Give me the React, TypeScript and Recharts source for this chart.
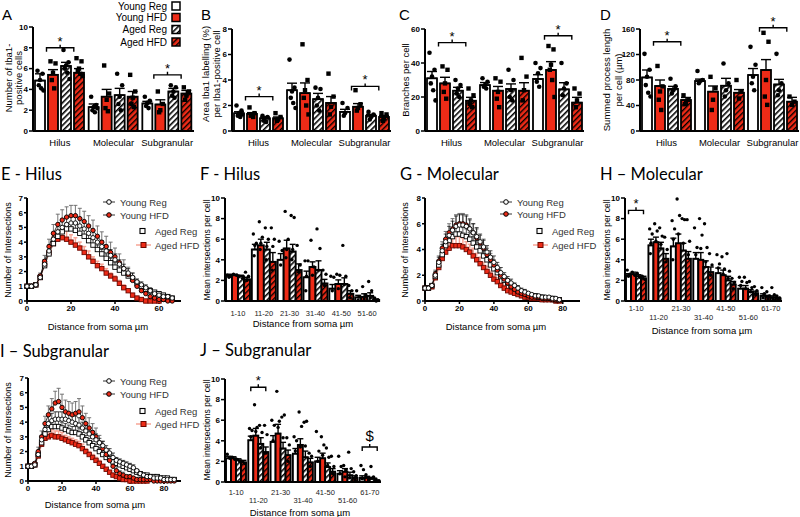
import React from 'react';
import { Bar, ComposedChart, ErrorBar, Line, XAxis, YAxis } from 'recharts';

const RED = '#ee2b17';
const PINK = '#f7a596';
const FONT = '"Liberation Sans", Arial, sans-serif';
const TITLE_FONT = 'Lato, "Open Sans", sans-serif';

const seriesNames = ['Young Reg', 'Young HFD', 'Aged Reg', 'Aged HFD'];
const barFills = ['#ffffff', RED, 'url(#hatchWhite)', 'url(#hatchRed)'];

// ---- A-D: per region, per group (Young Reg, Young HFD, Aged Reg, Aged HFD)
const regions = ['Hilus', 'Molecular', 'Subgranular'];

const cellsMean = [[4.85, 5.4, 6.25, 5.6], [2.3, 3.3, 3.45, 3.3], [2.65, 2.55, 3.8, 3.6]];
const cellsSem = [[0.65, 0.5, 0.35, 0.4], [0.3, 0.7, 0.65, 0.5], [0.2, 0.45, 0.3, 0.3]];
const cellsDots = [
  [[5.8, 5.5, 4.9, 4.4, 4.1, 3.9], [6.7, 6.5, 5.6, 4.9, 4.1], [7.8, 6.6, 6.3, 6.0, 5.6, 5.0], [7.0, 6.7, 6.0, 5.8, 5.5, 5.3]],
  [[3.3, 2.5, 2.3, 2.0, 1.8, 2.2], [6.3, 3.6, 3.0, 2.2, 1.9], [5.5, 4.4, 3.3, 2.6, 2.0], [5.4, 3.8, 3.2, 2.6, 2.3]],
  [[3.3, 2.9, 2.7, 2.4, 2.2], [3.8, 2.6, 2.0, 1.8], [4.4, 4.2, 3.8, 3.4, 3.2], [4.2, 3.8, 3.4, 3.0]],
];
const cellsSig = [8.0, null, 5.4];

const areaMean = [[1.39, 1.34, 1.0, 1.0], [3.2, 2.97, 2.5, 2.2], [1.5, 1.9, 1.2, 1.1]];
const areaSem = [[0.12, 0.1, 0.1, 0.1], [0.55, 0.8, 0.45, 0.5], [0.2, 0.25, 0.1, 0.12]];
const areaDots = [
  [[2.0, 1.6, 1.4, 1.2, 1.1, 1.3], [1.85, 1.4, 1.3, 1.2, 1.1], [1.2, 1.1, 1.0, 0.8, 0.7], [1.4, 1.1, 0.9, 0.8]],
  [[5.6, 3.4, 3.1, 2.6, 2.2, 1.8], [6.8, 4.0, 3.2, 2.6, 2.0, 1.3], [3.4, 3.3, 2.6, 2.0, 1.6], [4.5, 2.7, 1.9, 1.3]],
  [[2.2, 1.8, 1.4, 1.2], [3.2, 2.1, 1.8, 1.6], [1.5, 1.3, 1.1, 0.9], [1.4, 1.3, 1.0, 0.8]],
];
const areaSig = [2.7, null, 3.5];

const branchMean = [[31, 28, 23.7, 17.8], [27, 23.7, 24.7, 23.7], [30.6, 35.9, 24.5, 16.7]];
const branchSem = [[4, 3.6, 2, 2], [1.5, 2.5, 3, 4.7], [2.5, 4.9, 3.9, 3.1]];
const branchDots = [
  [[46, 36, 32, 28, 24, 18], [38, 36, 28, 23, 19], [30, 27, 25, 22, 20], [25, 21, 18, 16, 14]],
  [[31, 29, 27, 26, 25], [31, 29, 23, 19, 14], [36, 30, 24, 20, 18], [43, 32, 24, 18]],
  [[40, 37, 34, 29, 26], [50, 48, 39, 36, 30, 20], [40, 28, 25, 21], [25, 22, 18, 14]],
];
const branchSig = [52, null, 56];

const lengthMean = [[84, 70.6, 66, 48.6], [78.4, 61.7, 71, 60], [87.8, 95.7, 73, 46]];
const lengthSem = [[11.7, 9.4, 4, 4], [3, 8.9, 11.6, 5], [10.2, 16.3, 8, 6.8]];
const lengthDots = [
  [[121, 96, 85, 72, 60, 54], [102, 70, 62, 49, 33], [82, 70, 64, 59], [56, 49, 44, 42]],
  [[94, 80, 78, 75], [85, 67, 49, 33], [106, 75, 64, 54], [80, 62, 51]],
  [[132, 104, 85, 75, 64], [154, 140, 80, 54, 41], [121, 75, 64, 56], [54, 46, 41]],
];
const lengthSig = [140, null, 162];

// ---- F, H, J: binned intersections
const bins6 = ['1-10', '11-20', '21-30', '31-40', '41-50', '51-60'];
const bins7 = ['1-10', '11-20', '21-30', '31-40', '41-50', '51-60', '61-70'];

const hilusBinMean = [[2.5, 2.5, 2.4, 2.1], [5.0, 5.4, 5.0, 3.8], [4.0, 5.1, 4.8, 3.0], [2.3, 3.3, 3.0, 1.7], [1.2, 1.65, 1.65, 0.7], [0.35, 0.4, 0.5, 0.1]];
const hilusBinSem = [[0.1, 0.1, 0.1, 0.2], [0.5, 0.6, 0.7, 0.9], [0.6, 0.8, 0.7, 0.6], [0.6, 0.5, 0.9, 0.4], [0.4, 0.4, 0.6, 0.3], [0.2, 0.3, 0.3, 0.1]];
const hilusBinDots = [
  [[2.5, 2.4, 2.3], [2.6, 2.5], [2.4, 2.2], [2.8, 2.4, 2.0]],
  [[6.5, 5.6, 5.4, 4.4], [7.7, 6.2, 5.6, 5.0], [7.1, 6.0, 5.3, 4.0], [7.1, 6.0, 5.3, 3.0]],
  [[5.8, 4.9, 3.5], [8.7, 6.0, 5.0, 4.2], [8.3, 8.1, 5.0, 4.0], [5.4, 3.5, 2.8]],
  [[3.9, 3.9, 2.4, 1.0], [5.9, 3.3, 2.5], [7.0, 5.1, 3.0], [3.0, 2.6, 1.5]],
  [[2.4, 2.3, 1.0], [2.6, 2.5, 1.2], [5.4, 2.4, 1.6], [1.5, 1.0, 0.3]],
  [[1.0, 0.4, 0.1], [1.4, 0.6, 0.2], [1.9, 1.0, 0.3], [0.3, 0.1, 0.0]],
];
const hilusBinSig = [null, null, null, null, null, null];

const molBinMean = [[2.5, 2.6, 2.4, 2.2], [5.4, 5.7, 5.1, 4.1], [5.3, 5.6, 4.9, 4.1], [4.1, 4.0, 3.3, 2.8], [2.7, 2.5, 2.0, 1.6], [1.2, 1.2, 0.9, 0.75], [0.5, 0.4, 0.35, 0.25]];
const molBinSem = [[0.15, 0.2, 0.15, 0.2], [0.6, 0.5, 0.6, 0.5], [0.8, 0.9, 0.7, 0.7], [0.6, 0.7, 0.6, 0.5], [0.5, 0.5, 0.4, 0.3], [0.3, 0.3, 0.2, 0.2], [0.2, 0.15, 0.15, 0.1]];
const molBinDots = [
  [[3.0, 2.6, 2.4], [2.8, 2.5], [2.7, 2.3], [2.4, 2.1]],
  [[7.0, 6.5, 5.6, 4.6], [7.5, 6.8, 5.8], [7.1, 6.3, 5.5], [6.2, 5.0, 3.8]],
  [[7.8, 7.0, 6.0, 4.0], [9.9, 8.3, 6.5], [8.0, 7.9, 5.6], [7.9, 5.8, 4.5]],
  [[7.1, 5.2, 4.5], [8.0, 6.4, 5.1], [7.5, 5.2, 3.8], [4.6, 3.5, 2.5]],
  [[4.5, 3.6, 3.2], [4.3, 3.1, 2.6], [4.6, 2.9, 2.2], [2.2, 1.8, 1.2]],
  [[2.3, 1.9, 1.5], [2.3, 1.8, 1.2], [1.9, 1.3, 0.9], [1.4, 1.0, 0.6]],
  [[1.3, 0.7, 0.3], [0.9, 0.5, 0.2], [1.3, 0.6, 0.2], [0.5, 0.3, 0.1]],
];
const molBinSig = [8.8, null, null, null, null, null, null];

const subBinMean = [[2.3, 2.3, 2.1, 1.9], [4.05, 4.5, 3.7, 2.9], [3.9, 4.7, 3.25, 2.6], [2.75, 3.6, 2.4, 1.9], [2.0, 2.3, 1.45, 1.0], [0.8, 1.0, 0.65, 0.4], [0.4, 0.4, 0.3, 0.1]];
const subBinSem = [[0.2, 0.15, 0.15, 0.2], [0.4, 0.7, 0.6, 0.5], [0.6, 0.9, 0.6, 0.5], [0.5, 0.6, 0.6, 0.4], [0.4, 0.5, 0.4, 0.3], [0.3, 0.3, 0.3, 0.2], [0.2, 0.15, 0.15, 0.1]];
const subBinDots = [
  [[2.7, 2.3], [2.4, 2.2], [2.2, 2.0], [2.0, 1.8]],
  [[5.2, 5.0, 4.4], [7.5, 5.3, 4.9], [5.5, 4.8, 3.3], [5.5, 4.6, 2.8]],
  [[6.0, 5.5, 4.0], [8.8, 5.9, 5.3], [6.3, 6.5, 4.3], [4.3, 3.6, 2.0]],
  [[4.4, 4.0, 3.0], [6.8, 5.4, 3.4], [5.8, 5.9, 3.5], [2.8, 2.5, 1.5]],
  [[4.9, 3.0, 2.0], [4.4, 3.6, 2.6], [3.3, 2.4, 1.6], [2.5, 1.5, 0.8]],
  [[2.5, 1.5, 0.8], [1.6, 1.2, 0.5], [2.9, 1.3, 0.4], [1.0, 0.6, 0.2]],
  [[1.6, 1.2, 0.3], [0.7, 0.2], [1.5, 0.5], [0.3, 0.1]],
];
const subBinSig = [null, 9.2, null, null, null, null, 3.4];
const subBinSym = ['', '*', '', '', '', '', '$'];

// ---- E, G, I: Sholl profiles
const hilusDist = [0, 2, 4, 6, 8, 10, 12, 14, 16, 18, 20, 22, 24, 26, 28, 30, 32, 34, 36, 38, 40, 42, 44, 46, 48, 50, 52, 54, 56, 58, 60, 62, 64, 66];
const hilusYoungReg = [1, 1, 1.1, 1.6, 2.5, 3.4, 4.2, 4.7, 5.0, 5.2, 5.3, 5.3, 5.1, 4.9, 4.6, 4.3, 4.0, 3.7, 3.4, 3.1, 2.8, 2.5, 2.2, 1.9, 1.6, 1.3, 1.1, 0.9, 0.7, 0.5, 0.4, 0.3, 0.3, 0.2];
const hilusYoungHfd = [1, 1, 1.1, 1.7, 2.7, 3.7, 4.6, 5.2, 5.5, 5.7, 5.8, 5.8, 5.6, 5.4, 5.1, 4.8, 4.4, 4.0, 3.7, 3.3, 3.0, 2.6, 2.2, 1.8, 1.4, 1.0, 0.7, 0.5, 0.3, 0.2, 0.1, 0.1, 0, 0];
const hilusAgedReg = [1, 1, 1.1, 1.6, 2.4, 3.2, 3.9, 4.4, 4.7, 4.9, 4.9, 4.8, 4.6, 4.4, 4.1, 3.8, 3.5, 3.2, 2.9, 2.6, 2.3, 2.1, 1.9, 1.7, 1.5, 1.2, 1.0, 0.8, 0.7, 0.6, 0.5, 0.4, 0.3, 0.2];
const hilusAgedHfd = [1, 1, 1.1, 1.6, 2.5, 3.3, 3.9, 4.2, 4.3, 4.2, 4.0, 3.8, 3.6, 3.3, 3.0, 2.7, 2.4, 2.2, 1.9, 1.7, 1.5, 1.2, 0.9, 0.7, 0.4, 0.2, 0.1, 0, 0, 0, 0, null, null, null];
const hilusErrYoungReg = [0, 0, 0.1, 0.2, 0.3, 0.4, 0.4, 0.5, 0.5, 0.5, 0.5, 0.5, 0.5, 0.5, 0.5, 0.5, 0.4, 0.4, 0.4, 0.4, 0.4, 0.3, 0.3, 0.3, 0.3, 0.2, 0.2, 0.2, 0.2, 0.1, 0.1, 0.1, 0.1, 0.1];
const hilusErrYoungHfd = [0, 0, 0.1, 0.2, 0.4, 0.5, 0.6, 0.7, 0.7, 0.7, 0.7, 0.7, 0.7, 0.7, 0.7, 0.7, 0.7, 0.7, 0.7, 0.7, 0.6, 0.6, 0.6, 0.5, 0.5, 0.4, 0.3, 0.3, 0.2, 0.1, 0.1, 0.1, 0, 0];
const hilusErrAgedReg = [0, 0, 0.1, 0.2, 0.3, 0.3, 0.4, 0.4, 0.4, 0.4, 0.4, 0.4, 0.4, 0.4, 0.4, 0.4, 0.3, 0.3, 0.3, 0.3, 0.3, 0.3, 0.3, 0.2, 0.2, 0.2, 0.2, 0.2, 0.1, 0.1, 0.1, 0.1, 0.1, 0.1];
const hilusErrAgedHfd = [0, 0, 0.1, 0.2, 0.3, 0.4, 0.5, 0.6, 0.6, 0.6, 0.5, 0.5, 0.4, 0.4, 0.4, 0.3, 0.3, 0.3, 0.3, 0.2, 0.2, 0.2, 0.2, 0.1, 0.1, 0.1, 0.1, 0, 0, 0, 0, 0, 0, 0];

const molDist = [0, 2, 4, 6, 8, 10, 12, 14, 16, 18, 20, 22, 24, 26, 28, 30, 32, 34, 36, 38, 40, 42, 44, 46, 48, 50, 52, 54, 56, 58, 60, 62, 64, 66, 68, 70, 72, 74, 76, 78];
const molYoungReg = [1, 1, 1.2, 2.0, 3.0, 3.9, 4.6, 5.1, 5.5, 5.8, 5.9, 5.9, 5.8, 5.6, 5.3, 5.0, 4.6, 4.2, 3.8, 3.4, 3.0, 2.6, 2.2, 1.9, 1.6, 1.4, 1.2, 1.0, 0.8, 0.7, 0.6, 0.5, 0.4, 0.4, 0.3, 0.3, 0.3, 0.2, 0.2, 0.1];
const molYoungHfd = [1, 1, 1.2, 2.1, 3.1, 4.1, 4.8, 5.3, 5.6, 5.9, 6.0, 6.0, 5.9, 5.6, 5.3, 4.9, 4.5, 4.1, 3.6, 3.2, 2.8, 2.4, 2.0, 1.7, 1.4, 1.1, 0.9, 0.7, 0.6, 0.5, 0.4, 0.3, 0.3, 0.3, 0.2, 0.2, 0.2, 0.1, 0.1, 0.1];
const molAgedReg = [1, 1, 1.2, 1.9, 2.8, 3.6, 4.3, 4.7, 5.0, 5.2, 5.2, 5.1, 5.0, 4.8, 4.5, 4.2, 3.9, 3.5, 3.2, 2.8, 2.5, 2.2, 1.9, 1.6, 1.4, 1.2, 1.0, 0.8, 0.7, 0.6, 0.5, 0.4, 0.4, 0.3, 0.3, 0.2, 0.2, 0.2, 0.1, 0.1];
const molAgedHfd = [1, 1, 1.1, 1.8, 2.6, 3.3, 3.8, 4.1, 4.3, 4.3, 4.3, 4.2, 4.0, 3.8, 3.5, 3.2, 2.9, 2.6, 2.3, 2.0, 1.7, 1.5, 1.2, 1.0, 0.8, 0.7, 0.6, 0.5, 0.4, 0.3, 0.3, 0.2, 0.2, 0.2, 0.1, 0.1, 0.1, 0.1, 0, 0];
const molErrYoungReg = [0, 0, 0.1, 0.3, 0.4, 0.5, 0.6, 0.7, 0.7, 0.8, 0.8, 0.8, 0.8, 0.7, 0.7, 0.7, 0.6, 0.6, 0.5, 0.5, 0.5, 0.4, 0.4, 0.3, 0.3, 0.3, 0.2, 0.2, 0.2, 0.2, 0.1, 0.1, 0.1, 0.1, 0.1, 0.1, 0.1, 0.1, 0.1, 0.1];
const molErrYoungHfd = [0, 0, 0.1, 0.3, 0.4, 0.5, 0.6, 0.7, 0.8, 0.8, 0.8, 0.8, 0.8, 0.8, 0.7, 0.7, 0.6, 0.6, 0.5, 0.5, 0.4, 0.4, 0.3, 0.3, 0.3, 0.2, 0.2, 0.2, 0.2, 0.1, 0.1, 0.1, 0.1, 0.1, 0.1, 0.1, 0.1, 0.1, 0.1, 0.1];
const molErrAgedReg = [0, 0, 0.1, 0.2, 0.3, 0.4, 0.5, 0.5, 0.6, 0.6, 0.6, 0.6, 0.6, 0.5, 0.5, 0.5, 0.5, 0.4, 0.4, 0.4, 0.3, 0.3, 0.3, 0.2, 0.2, 0.2, 0.2, 0.1, 0.1, 0.1, 0.1, 0.1, 0.1, 0.1, 0.1, 0.1, 0.1, 0.1, 0.1, 0.1];
const molErrAgedHfd = [0, 0, 0.1, 0.3, 0.4, 0.5, 0.6, 0.7, 0.7, 0.7, 0.7, 0.7, 0.6, 0.6, 0.6, 0.5, 0.5, 0.4, 0.4, 0.3, 0.3, 0.3, 0.2, 0.2, 0.2, 0.2, 0.1, 0.1, 0.1, 0.1, 0.1, 0.1, 0.1, 0.1, 0.1, 0.1, 0, 0, 0, 0];

const subDist = [0, 2, 4, 6, 8, 10, 12, 14, 16, 18, 20, 22, 24, 26, 28, 30, 32, 34, 36, 38, 40, 42, 44, 46, 48, 50, 52, 54, 56, 58, 60, 62, 64, 66, 68, 70, 72, 74, 76, 78, 80, 82, 84, 86];
const subYoungReg = [1, 1, 1.1, 1.8, 2.8, 3.5, 3.9, 4.1, 4.2, 4.2, 4.2, 4.2, 4.1, 4.0, 3.9, 3.8, 3.6, 3.4, 3.2, 3.0, 2.8, 2.6, 2.4, 2.1, 1.9, 1.6, 1.4, 1.3, 1.2, 1.1, 1.0, 0.9, 0.7, 0.5, 0.4, 0.3, 0.3, 0.2, 0.2, 0.2, 0.1, 0.1, 0.1, 0.1];
const subYoungHfd = [1, 1, 1.2, 2.0, 3.0, 3.9, 4.5, 4.9, 5.3, 5.4, 5.0, 4.7, 4.6, 4.5, 4.6, 4.7, 4.3, 3.9, 3.6, 3.3, 3.0, 2.6, 2.2, 1.8, 1.4, 1.0, 0.7, 0.5, 0.4, 0.3, 0.3, 0.2, 0.1, 0.1, 0.1, 0.1, 0.1, 0, 0, 0, 0, 0, 0, 0];
const subAgedReg = [1, 1, 1.1, 1.8, 2.6, 3.2, 3.5, 3.7, 3.7, 3.7, 3.6, 3.5, 3.4, 3.3, 3.3, 3.2, 3.0, 2.8, 2.6, 2.4, 2.2, 2.0, 1.8, 1.6, 1.5, 1.3, 1.2, 1.1, 1.0, 0.9, 0.8, 0.7, 0.6, 0.5, 0.4, 0.4, 0.3, 0.3, 0.3, 0.2, 0.2, 0.2, 0.1, 0.1];
const subAgedHfd = [1, 1, 1.1, 1.7, 2.5, 2.9, 3.0, 3.1, 3.0, 3.0, 2.9, 2.8, 2.7, 2.6, 2.5, 2.4, 2.2, 2.0, 1.8, 1.6, 1.4, 1.2, 1.0, 0.8, 0.6, 0.4, 0.3, 0.2, 0.1, 0.1, 0, 0, 0, 0, 0, 0, null, null, null, null, null, null, null, null];
const subErrYoungReg = [0, 0, 0.1, 0.2, 0.3, 0.4, 0.5, 0.5, 0.5, 0.5, 0.5, 0.5, 0.5, 0.5, 0.5, 0.5, 0.4, 0.4, 0.4, 0.4, 0.4, 0.3, 0.3, 0.3, 0.3, 0.3, 0.2, 0.2, 0.2, 0.2, 0.2, 0.2, 0.1, 0.1, 0.1, 0.1, 0.1, 0.1, 0.1, 0.1, 0.1, 0.1, 0.1, 0.1];
const subErrYoungHfd = [0, 0, 0.1, 0.3, 0.4, 0.5, 0.6, 0.7, 0.8, 0.9, 0.9, 0.8, 0.8, 0.8, 0.8, 0.9, 0.8, 0.7, 0.7, 0.6, 0.6, 0.5, 0.5, 0.4, 0.4, 0.3, 0.3, 0.2, 0.2, 0.1, 0.1, 0.1, 0.1, 0.1, 0.1, 0.1, 0.1, 0, 0, 0, 0, 0, 0, 0];
const subErrAgedReg = [0, 0, 0.1, 0.2, 0.3, 0.4, 0.4, 0.4, 0.4, 0.4, 0.4, 0.4, 0.4, 0.4, 0.4, 0.4, 0.3, 0.3, 0.3, 0.3, 0.3, 0.3, 0.3, 0.2, 0.2, 0.2, 0.2, 0.2, 0.2, 0.2, 0.1, 0.1, 0.1, 0.1, 0.1, 0.1, 0.1, 0.1, 0.1, 0.1, 0.1, 0.1, 0.1, 0.1];
const subErrAgedHfd = [0, 0, 0.1, 0.2, 0.3, 0.4, 0.4, 0.4, 0.4, 0.4, 0.4, 0.3, 0.3, 0.3, 0.3, 0.3, 0.3, 0.2, 0.2, 0.2, 0.2, 0.2, 0.1, 0.1, 0.1, 0.1, 0.1, 0.1, 0, 0, 0, 0, 0, 0, 0, 0, 0, 0, 0, 0, 0, 0, 0, 0];

const JIT = [-0.25, 0.25, 0, -0.12, 0.12, 0.35];

function buildBarRows(labels: string[], mean: number[][], sem: number[][], dots: number[][][], sig: (number | null)[], sym?: string[]) {
  return labels.map((name, g) => {
    const row: any = { name, sig: sig[g], sym: sym ? sym[g] : '*' };
    for (let s = 0; s < 4; s++) {
      row[`m${s}`] = mean[g][s];
      row[`e${s}`] = [0, sem[g][s]];
      row[`d${s}`] = dots[g][s];
    }
    return row;
  });
}

type BarPanelProps = {
  left: number;
  top: number;
  width: number;
  height: number;
  margin: { top: number; right: number; bottom: number; left: number };
  yWidth: number;
  rows: any[];
  yMax: number;
  yTicks: number[];
  barGap: number;
  catGap: number;
  padLeft?: number;
  small?: boolean;
  span: [number, number];
  labelRows: number[];
};

function BarPanel(p: BarPanelProps) {
  const makeShape = (s: number) => (props: any) => {
    const { x, y, width, height, payload } = props;
    const mean = payload[`m${s}`];
    const base = y + height;
    const ppu = mean > 0 ? height / mean : 0;
    const dots: number[] = payload[`d${s}`] || [];
    const cx = x + width / 2;
    const pitch = width + p.barGap;
    let bracket = null;
    if (s === 0 && payload.sig != null && ppu > 0) {
      const yb = base - payload.sig * ppu;
      const x1 = cx + p.span[0] * pitch;
      const x2 = cx + p.span[1] * pitch;
      const xm = (x1 + x2) / 2;
      const big = payload.sym === '$';
      bracket = (
        <g>
          <path d={`M${x1},${yb + 4}L${x1},${yb}L${x2},${yb}L${x2},${yb + 4}M${xm},${yb}L${xm},${yb - 3}`} stroke="#000" strokeWidth={1.4} fill="none" />
          <text x={xm} y={yb - (big ? 6 : 2)} textAnchor="middle" fontSize={big ? 15 : 13} fill="#000">{payload.sym}</text>
        </g>
      );
    }
    return (
      <g>
        <rect x={x} y={y} width={width} height={height} fill={barFills[s]} stroke="#000" strokeWidth={p.small ? 1.9 : 1.8} />
        {dots.map((v, i) => {
          const dx = cx + JIT[i % JIT.length] * width;
          const dy = base - v * ppu;
          if (!p.small && s % 2 === 1) return <rect key={i} x={dx - 2.2} y={dy - 2.2} width={4.4} height={4.4} fill="#000" />;
          return <circle key={i} cx={dx} cy={dy} r={p.small ? 1.7 : 2.3} fill="#000" />;
        })}
        {bracket}
      </g>
    );
  };

  const tick = (props: any) => {
    const { x, y, payload } = props;
    const idx = props.index ?? payload.index ?? 0;
    const off = p.labelRows[idx % p.labelRows.length];
    return (
      <text x={x} y={y + off} textAnchor="middle" fontSize={p.small ? 7.5 : 9.5} fill={p.small ? '#222' : '#000'}>
        {payload.value}
      </text>
    );
  };

  return (
    <div style={{ position: 'absolute', left: p.left, top: p.top }}>
      <ComposedChart width={p.width} height={p.height} data={p.rows} margin={p.margin} barGap={p.barGap} barCategoryGap={p.catGap}>
        <XAxis
          dataKey="name"
          height={20}
          interval={0}
          tickLine={false}
          tickSize={0}
          tickMargin={0}
          axisLine={{ stroke: '#000', strokeWidth: 2 }}
          padding={{ left: p.padLeft ?? 0, right: 0 }}
          tick={tick}
        />
        <YAxis
          width={p.yWidth}
          domain={[0, p.yMax]}
          ticks={p.yTicks}
          interval={0}
          axisLine={{ stroke: '#000', strokeWidth: 2 }}
          tickLine={{ stroke: '#000', strokeWidth: 1.5 }}
          tickSize={4}
          tickMargin={1}
          tick={{ fontSize: 8, fontWeight: 'bold', fill: '#000' }}
        />
        {[0, 1, 2, 3].map((s) => (
          <Bar key={s} dataKey={`m${s}`} isAnimationActive={false} shape={makeShape(s)}>
            <ErrorBar dataKey={`e${s}`} width={p.small ? 3 : 5} stroke="#000" strokeWidth={1.4} direction="y" />
          </Bar>
        ))}
      </ComposedChart>
    </div>
  );
}

const circleDot = (fill: string) => (props: any) => {
  if (props.cx == null || props.cy == null || props.value == null) return <g key={`c${props.index}`} />;
  return <circle key={`c${props.index}`} cx={props.cx} cy={props.cy} r={2.2} fill={fill} stroke="#000" strokeWidth={0.9} />;
};
const squareDot = (fill: string, stroke: string) => (props: any) => {
  if (props.cx == null || props.cy == null || props.value == null) return <g key={`s${props.index}`} />;
  return <rect key={`s${props.index}`} x={props.cx - 2.2} y={props.cy - 2.2} width={4.4} height={4.4} fill={fill} stroke={stroke} strokeWidth={0.9} />;
};

type ShollProps = {
  left: number;
  top: number;
  margin: { top: number; right: number; bottom: number; left: number };
  yWidth: number;
  dist: number[];
  yr: (number | null)[];
  yhfd: (number | null)[];
  ar: (number | null)[];
  ahfd: (number | null)[];
  eyr: number[];
  eyhfd: number[];
  ear: number[];
  eahfd: number[];
  xMax: number;
  xTicks: number[];
  yMax: number;
  yTicks: number[];
};

function ShollPanel(p: ShollProps) {
  const err = (v: number | null, e: number) => (v == null ? undefined : [0, e]);
  const rows = p.dist.map((x, i) => ({
    x,
    yr: p.yr[i],
    yhfd: p.yhfd[i],
    ar: p.ar[i],
    ahfd: p.ahfd[i],
    eyr: err(p.yr[i], p.eyr[i]),
    eyhfd: err(p.yhfd[i], p.eyhfd[i]),
    ear: err(p.ar[i], p.ear[i]),
    eahfd: err(p.ahfd[i], p.eahfd[i]),
  }));
  return (
    <div style={{ position: 'absolute', left: p.left, top: p.top }}>
      <ComposedChart width={200} height={145} data={rows} margin={p.margin}>
        <XAxis
          type="number"
          dataKey="x"
          domain={[0, p.xMax]}
          ticks={p.xTicks}
          interval={0}
          height={20}
          axisLine={{ stroke: '#000', strokeWidth: 2 }}
          tickLine={{ stroke: '#000', strokeWidth: 1.5 }}
          tickSize={3}
          tickMargin={1}
          tick={{ fontSize: 8, fontWeight: 'bold', fill: '#000' }}
        />
        <YAxis
          width={p.yWidth}
          domain={[0, p.yMax]}
          ticks={p.yTicks}
          interval={0}
          axisLine={{ stroke: '#000', strokeWidth: 2 }}
          tickLine={{ stroke: '#000', strokeWidth: 1.5 }}
          tickSize={3}
          tickMargin={1}
          tick={{ fontSize: 8, fontWeight: 'bold', fill: '#000' }}
        />
        <Line dataKey="ahfd" stroke={PINK} strokeWidth={1.5} dot={squareDot(RED, '#6a0800')} activeDot={false} isAnimationActive={false}>
          <ErrorBar dataKey="eahfd" width={2} stroke={PINK} strokeWidth={1.5} direction="y" />
        </Line>
        <Line dataKey="ar" stroke="#000" strokeWidth={0.5} dot={squareDot('#fff', '#000')} activeDot={false} isAnimationActive={false}>
          <ErrorBar dataKey="ear" width={2} stroke="#000" strokeWidth={0.7} direction="y" />
        </Line>
        <Line dataKey="yhfd" stroke="#000" strokeWidth={0.8} dot={circleDot(RED)} activeDot={false} isAnimationActive={false}>
          <ErrorBar dataKey="eyhfd" width={2} stroke="#666" strokeWidth={0.9} direction="y" />
        </Line>
        <Line dataKey="yr" stroke="#000" strokeWidth={0.8} dot={circleDot('#fff')} activeDot={false} isAnimationActive={false}>
          <ErrorBar dataKey="eyr" width={2} stroke="#000" strokeWidth={0.7} direction="y" />
        </Line>
      </ComposedChart>
    </div>
  );
}

function ShollLegend({ x, y, rows }: { x: number; y: number; rows: number[] }) {
  return (
    <g fontSize={9.5} fill="#333" fontFamily={FONT}>
      <line x1={x} x2={x + 12} y1={y + rows[0]} y2={y + rows[0]} stroke="#000" strokeWidth={0.8} />
      <circle cx={x + 6} cy={y + rows[0]} r={2.3} fill="#fff" stroke="#000" />
      <text x={x + 17} y={y + rows[0] + 3.5}>{seriesNames[0]}</text>
      <line x1={x} x2={x + 12} y1={y + rows[1]} y2={y + rows[1]} stroke="#000" strokeWidth={0.8} />
      <circle cx={x + 6} cy={y + rows[1]} r={2.3} fill={RED} stroke="#000" />
      <text x={x + 17} y={y + rows[1] + 3.5}>{seriesNames[1]}</text>
      <rect x={x + 37} y={y + rows[2] - 2.5} width={5} height={5} fill="#fff" stroke="#000" strokeWidth={1.1} />
      <text x={x + 52} y={y + rows[2] + 3.5}>{seriesNames[2]}</text>
      <line x1={x + 33} x2={x + 48} y1={y + rows[3]} y2={y + rows[3]} stroke={PINK} strokeWidth={1.5} />
      <rect x={x + 38} y={y + rows[3] - 2.5} width={5} height={5} fill={RED} stroke="#6a0800" strokeWidth={1} />
      <text x={x + 52} y={y + rows[3] + 3.5}>{seriesNames[3]}</text>
    </g>
  );
}

const vText = (x: number, y: number, s: string, size = 9) => (
  <text key={`${x}-${y}-${s}`} transform={`translate(${x},${y}) rotate(-90)`} textAnchor="middle" dominantBaseline="central" fontSize={size} fill="#000" fontFamily={FONT}>
    {s}
  </text>
);

function Overlay() {
  const title = (x: number, y: number, s: string) => (
    <text x={x} y={y} fontSize={16.5} fontFamily={TITLE_FONT} fill="#000">{s}</text>
  );
  const xTitle = (x: number, y: number) => (
    <text x={x} y={y} textAnchor="middle" dominantBaseline="central" fontSize={9.5} fontFamily={FONT} fill="#000">Distance from soma µm</text>
  );
  return (
    <svg width={800} height={517} style={{ position: 'absolute', left: 0, top: 0, pointerEvents: 'none' }}>
      <defs>
        <pattern id="hatchWhite" width="4" height="4" patternUnits="userSpaceOnUse" patternTransform="rotate(45)">
          <rect width="4" height="4" fill="#fff" />
          <rect width="1.6" height="4" fill="#000" />
        </pattern>
        <pattern id="hatchRed" width="4" height="4" patternUnits="userSpaceOnUse" patternTransform="rotate(45)">
          <rect width="4" height="4" fill={RED} />
          <rect width="1.4" height="4" fill="#000" />
        </pattern>
      </defs>

      {/* panel letters */}
      <g fontSize={15} fontFamily={FONT} fill="#000">
        <text x={2} y={20}>A</text>
        <text x={201} y={20}>B</text>
        <text x={399} y={20}>C</text>
        <text x={600} y={20}>D</text>
      </g>

      {/* legend of panel A */}
      <g fontSize={10} fontFamily={FONT} fill="#000">
        {seriesNames.map((n, i) => {
          const cy = [6, 17.5, 29.5, 42][i];
          return (
            <g key={n}>
              <text x={167} y={cy + 3.5} textAnchor="end">{n}</text>
              <rect x={172} y={cy - 4} width={8} height={8} fill={barFills[i]} stroke="#000" strokeWidth={1.5} />
            </g>
          );
        })}
      </g>

      {/* y-axis titles */}
      {vText(8, 78, 'Number of Iba1-', 9.5)}
      {vText(18, 78, 'positive cells', 9.5)}
      {vText(205, 74, 'Area Iba1 labelling (%)', 9.5)}
      {vText(216, 74, 'per Iba1-positive cell', 9.5)}
      {vText(405, 80, 'Branches per cell', 9.5)}
      {vText(606, 80, 'Summed process length', 9.5)}
      {vText(618, 80, 'per cell (µm)', 9.5)}
      {vText(8, 250, 'Number of Intersections')}
      {vText(207, 250, 'Mean intersections per cell', 8.5)}
      {vText(405, 250, 'Number of Intersections')}
      {vText(607, 250, 'Mean intersections per cell', 8.5)}
      {vText(8, 430, 'Number of Intersections')}
      {vText(207, 430, 'Mean intersections per cell', 8.5)}

      {/* panel titles */}
      {title(1, 180, 'E - Hilus')}
      {title(200, 180, 'F - Hilus')}
      {title(400, 180, 'G - Molecular')}
      {title(600, 180, 'H \u2013 Molecular')}
      {title(0, 357, 'I \u2013 Subgranular')}
      {title(200, 356, 'J \u2013 Subgranular')}

      {/* x-axis titles */}
      {xTitle(98, 326)}
      {xTitle(303, 323)}
      {xTitle(496, 326)}
      {xTitle(702, 330)}
      {xTitle(95, 504)}
      {xTitle(300, 512)}

      <ShollLegend x={103} y={202} rows={[0, 13, 29, 43]} />
      <ShollLegend x={500} y={202} rows={[0, 12, 29, 43]} />
      <ShollLegend x={103} y={381} rows={[0, 13, 30, 43]} />
    </svg>
  );
}

export default function App() {
  return (
    <div style={{ position: 'absolute', left: 0, top: 0, width: 800, height: 517, background: '#fff', fontFamily: FONT, overflow: 'hidden' }}>
      <BarPanel left={0} top={0} width={200} height={160} margin={{ top: 27, right: 6, bottom: 9, left: 0 }} yWidth={33} padLeft={0}
        rows={buildBarRows(regions, cellsMean, cellsSem, cellsDots, cellsSig)} yMax={10} yTicks={[0, 2, 4, 6, 8, 10]}
        barGap={3} catGap={2} span={[0.5, 2.6]} labelRows={[15]} />
      <BarPanel left={200} top={0} width={200} height={160} margin={{ top: 29, right: 9, bottom: 9, left: 0 }} yWidth={32}
        rows={buildBarRows(regions, areaMean, areaSem, areaDots, areaSig)} yMax={8} yTicks={[0, 2, 4, 6, 8]}
        barGap={3} catGap={2} span={[0.5, 2.6]} labelRows={[15]} />
      <BarPanel left={400} top={0} width={200} height={160} margin={{ top: 29, right: 16, bottom: 9, left: 0 }} yWidth={25}
        rows={buildBarRows(regions, branchMean, branchSem, branchDots, branchSig)} yMax={60} yTicks={[0, 20, 40, 60]}
        barGap={3} catGap={2} span={[0.5, 2.6]} labelRows={[15]} />
      <BarPanel left={600} top={0} width={200} height={160} margin={{ top: 29, right: 1, bottom: 9, left: 0 }} yWidth={40}
        rows={buildBarRows(regions, lengthMean, lengthSem, lengthDots, lengthSig)} yMax={160} yTicks={[0, 40, 80, 120, 160]}
        barGap={3} catGap={2} span={[0.5, 2.6]} labelRows={[15]} />

      <ShollPanel left={0} top={185} margin={{ top: 13, right: 19, bottom: 9, left: 0 }} yWidth={27}
        dist={hilusDist} yr={hilusYoungReg} yhfd={hilusYoungHfd} ar={hilusAgedReg} ahfd={hilusAgedHfd}
        eyr={hilusErrYoungReg} eyhfd={hilusErrYoungHfd} ear={hilusErrAgedReg} eahfd={hilusErrAgedHfd}
        xMax={70} xTicks={[0, 20, 40, 60]} yMax={7} yTicks={[0, 1, 2, 3, 4, 5, 6, 7]} />
      <ShollPanel left={400} top={185} margin={{ top: 13, right: 20, bottom: 9, left: 0 }} yWidth={25}
        dist={molDist} yr={molYoungReg} yhfd={molYoungHfd} ar={molAgedReg} ahfd={molAgedHfd}
        eyr={molErrYoungReg} eyhfd={molErrYoungHfd} ear={molErrAgedReg} eahfd={molErrAgedHfd}
        xMax={90} xTicks={[0, 20, 40, 60, 80]} yMax={8} yTicks={[0, 2, 4, 6, 8]} />
      <ShollPanel left={0} top={365} margin={{ top: 13, right: 19, bottom: 9, left: 0 }} yWidth={28}
        dist={subDist} yr={subYoungReg} yhfd={subYoungHfd} ar={subAgedReg} ahfd={subAgedHfd}
        eyr={subErrYoungReg} eyhfd={subErrYoungHfd} ear={subErrAgedReg} eahfd={subErrAgedHfd}
        xMax={90} xTicks={[0, 20, 40, 60, 80]} yMax={7} yTicks={[0, 1, 2, 3, 4, 5, 6, 7]} />

      <BarPanel left={200} top={185} width={200} height={145} margin={{ top: 13, right: 20, bottom: 9, left: 0 }} yWidth={25}
        rows={buildBarRows(bins6, hilusBinMean, hilusBinSem, hilusBinDots, hilusBinSig)} yMax={10} yTicks={[0, 2, 4, 6, 8, 10]}
        barGap={0} catGap={1} small span={[0, 3]} labelRows={[15]} />
      <BarPanel left={600} top={185} width={200} height={145} margin={{ top: 13, right: 18, bottom: 9, left: 0 }} yWidth={25}
        rows={buildBarRows(bins7, molBinMean, molBinSem, molBinDots, molBinSig)} yMax={10} yTicks={[0, 2, 4, 6, 8, 10]}
        barGap={0} catGap={1} small span={[0, 3]} labelRows={[10, 19]} />
      <BarPanel left={200} top={365} width={200} height={145} margin={{ top: 14, right: 19, bottom: 8, left: 0 }} yWidth={25}
        rows={buildBarRows(bins7, subBinMean, subBinSem, subBinDots, subBinSig, subBinSym)} yMax={10} yTicks={[0, 2, 4, 6, 8, 10]}
        barGap={0} catGap={1} small span={[0, 3]} labelRows={[13, 21]} />

      <Overlay />
    </div>
  );
}
